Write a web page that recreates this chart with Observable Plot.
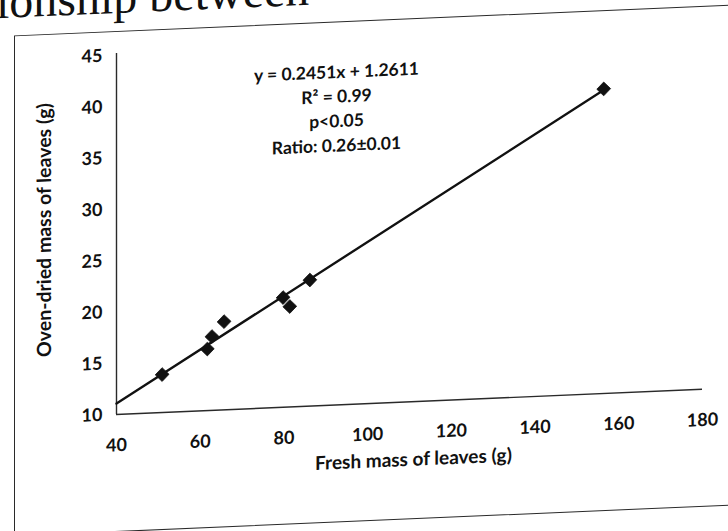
<!DOCTYPE html>
<html>
<head>
<meta charset="utf-8">
<script src="https://cdn.jsdelivr.net/npm/d3@7"></script>
<script src="https://cdn.jsdelivr.net/npm/@observablehq/plot@0.6"></script>
<style>
  html, body { margin: 0; padding: 0; background: #fff; width: 728px; height: 531px; overflow: hidden; }
  #page { position: absolute; left: 0; top: 0; width: 728px; height: 531px;
          transform-origin: 116px 414px; transform: skewY(-2.46deg); }
  #caption { position: absolute; left: -4px; top: -30px; font-family: "Liberation Serif", serif;
             font-size: 48px; line-height: 54px; color: #111; white-space: nowrap; }
  #frame { position: absolute; left: 14px; top: 31px; width: 800px; height: 501px;
           border: 1.3px solid #2a2a2a; box-sizing: border-box; }
  #chart { position: absolute; left: 0; top: 0; }
</style>
</head>
<body>
<div id="page">
  <div id="caption">ionship between</div>
  <div id="frame"></div>
  <div id="chart"></div>
</div>
<script>
// Data
const freshMass = [50.9, 61.7, 62.8, 65.7, 79.8, 81.4, 86.2, 156.4];
const dryMass   = [13.7, 16.0, 17.2, 18.6, 20.7, 19.8, 22.3, 39.7];

// Trendline as printed on the chart
const trendSlope = 0.2451;
const trendIntercept = 1.2611;
const trendRange = [40, 156.4];

const xTicks = [40, 60, 80, 100, 120, 140, 160, 180];
const yTicks = [10, 15, 20, 25, 30, 35, 40, 45];

const xTitle = "Fresh mass of leaves (g)";
const yTitle = "Oven-dried mass of leaves (g)";
const annotation = ["y = 0.2451x + 1.2611", "R² = 0.99", "p<0.05", "Ratio: 0.26±0.01"];

const points = freshMass.map((x, i) => ({x, y: dryMass[i]}));
const trend = trendRange.map(x => ({x, y: trendSlope * x + trendIntercept}));

const chart = Plot.plot({
  width: 728,
  height: 531,
  marginLeft: 116,
  marginRight: 26,
  marginTop: 55,
  marginBottom: 117,
  style: {fontFamily: "Lato, 'Open Sans', sans-serif", fontSize: "18px", fontWeight: "bold",
          color: "#111", background: "transparent", overflow: "visible"},
  x: {domain: [40, 180], label: null},
  y: {domain: [10, 45], label: null},
  marks: [
    Plot.ruleX([40], {stroke: "#2a2a2a", strokeWidth: 1.4, y1: 10, y2: 45.2}),
    Plot.ruleY([10], {stroke: "#2a2a2a", strokeWidth: 1.4}),
    Plot.axisX({ticks: xTicks, tickSize: 0, tickPadding: 24, label: null, fontSize: 18}),
    Plot.axisY({ticks: yTicks, tickSize: 0, tickPadding: 14, label: null, fontSize: 18}),
    Plot.line(trend, {x: "x", y: "y", stroke: "#111", strokeWidth: 2.4}),
    Plot.dot(points, {x: "x", y: "y", symbol: "diamond2", r: 6.2, fill: "#111", stroke: "#111", strokeWidth: 0.8}),
    Plot.text([annotation.join("\n")], {text: d => d, frameAnchor: "top", dx: -73, dy: 61,
      lineAnchor: "middle", lineHeight: 1.4, fontSize: 17.5, fill: "#111"}),
    Plot.text([xTitle], {text: d => d, frameAnchor: "bottom", dx: 4, dy: 64, fontSize: 19, fill: "#111"}),
    Plot.text([yTitle], {text: d => d, frameAnchor: "left", textAnchor: "middle", rotate: -90,
      dx: -72, dy: -8, fontSize: 19.5, fill: "#111"})
  ]
});
document.getElementById("chart").appendChild(chart);
</script>
</body>
</html>
